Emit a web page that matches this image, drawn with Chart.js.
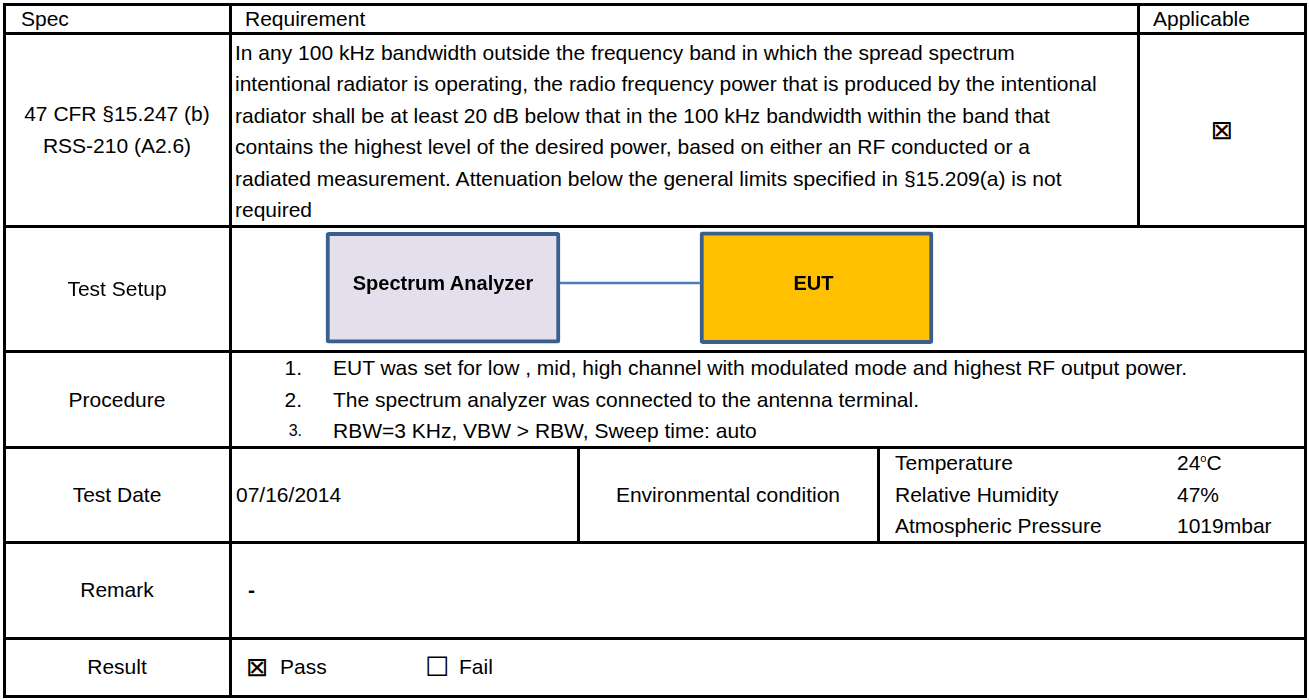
<!DOCTYPE html>
<html>
<head>
<meta charset="utf-8">
<title>Band edge / conducted spurious emission</title>
<script src="https://cdn.jsdelivr.net/npm/chart.js"></script>
<style>
  body { margin: 0; background: #fff; }
  #page { position: relative; width: 1309px; height: 700px; overflow: hidden;
          font-family: 'Liberation Sans', Arial, sans-serif; font-size: 21px; color: #000; }
  .rule { position: absolute; background: #000; }
  .txt { position: absolute; height: 24px; line-height: 24px; white-space: nowrap; }
  .txt sup { font-size: 11px; line-height: 0; vertical-align: 8px; }
  .mark { font-family: 'DejaVu Sans', sans-serif; font-size: 27px; }
  #setup { position: absolute; left: 232px; top: 228px; }
  .blockLabel { position: absolute; transform: translate(-50%, -50%); font-weight: bold;
                font-size: 20px; white-space: nowrap; }
</style>
</head>
<body>
<div id="page">
  <canvas id="setup" width="1071" height="122"></canvas>
  <div class="blockLabel" id="block0"></div>
  <div class="blockLabel" id="block1"></div>
</div>
<script>
// table text
const headers = ['Spec', 'Requirement', 'Applicable'];
const specRefs = ['47 CFR §15.247 (b)', 'RSS-210 (A2.6)'];
const requirementLines = [
    'In any 100 kHz bandwidth outside the frequency band in which the spread spectrum',
    'intentional radiator is operating, the radio frequency power that is produced by the intentional',
    'radiator shall be at least 20 dB below that in the 100 kHz bandwidth within the band that',
    'contains the highest level of the desired power, based on either an RF conducted or a',
    'radiated measurement. Attenuation below the general limits specified in §15.209(a) is not',
    'required'
];
const rowLabels = ['Test Setup', 'Procedure', 'Test Date', 'Remark', 'Result'];
const procedureNums = ['1.', '2.', '3.'];
const procedureSteps = [
    'EUT was set for low , mid, high channel with modulated mode and highest RF output power.',
    'The spectrum analyzer was connected to the antenna terminal.',
    'RBW=3 KHz, VBW > RBW, Sweep time: auto'
];
const testDate = '07/16/2014';
const envLabel = 'Environmental condition';
const envNames = ['Temperature', 'Relative Humidity', 'Atmospheric Pressure'];
const envValues = ['24<sup>o</sup>C', '47%', '1019mbar'];
const remark = '-';
const resultChoices = ['Pass', 'Fail'];
const resultMarks = ['⊠', '☐'];

// test setup diagram, x measured across the setup cell
const setupBlocks = ['Spectrum Analyzer', 'EUT'];
const blockStart = [94, 468];
const blockEnd = [328, 701];
const linkSpan = [328, 468];

const page = document.getElementById('page');
const rowLines = [4, 33, 226, 351, 447, 542, 638, 696];

function rule(x, y, w, h) {
    let d = document.createElement('div');
    d.className = 'rule';
    d.style.left = x + 'px';
    d.style.top = y + 'px';
    d.style.width = w + 'px';
    d.style.height = h + 'px';
    page.appendChild(d);
}

function put(html, x, y, align, css) {
    let d = document.createElement('div');
    d.className = 'txt';
    d.innerHTML = html;
    d.style.top = (y - 12) + 'px';
    if (align === 'center') {
        d.style.left = (x - 300) + 'px';
        d.style.width = '600px';
        d.style.textAlign = 'center';
    } else if (align === 'right') {
        d.style.left = (x - 100) + 'px';
        d.style.width = '100px';
        d.style.textAlign = 'right';
    } else {
        d.style.left = x + 'px';
    }
    if (css) d.style.cssText += css;
    page.appendChild(d);
    return d;
}

// grid lines
rowLines.forEach(y => rule(3, y - 1, 1304, 3));
[4, 230, 1305].forEach(x => rule(x - 1, 3, 3, 694));
rule(1137, 3, 3, 224);
rule(577, 446, 3, 97);
rule(877, 446, 3, 97);

// header
put(headers[0], 21, 18.5);
put(headers[1], 245, 18.5);
put(headers[2], 1153, 18.5);

// requirement row
specRefs.forEach((t, i) => put(t, 117, 114 + i * 31.5, 'center'));
requirementLines.forEach((t, i) => put(t, 235, 52.5 + i * 31.5));
put(resultMarks[0], 1222, 129.5, 'center').classList.add('mark');

// left column labels
const labelY = [289, 399.5, 494.5, 590, 667];
rowLabels.forEach((t, i) => put(t, 117, labelY[i], 'center'));

// procedure
procedureSteps.forEach((t, i) => {
    let y = 368 + i * 31.5;
    put(procedureNums[i], 302, y, 'right', i === 2 ? 'font-size:16px;' : '');
    put(t, 333, y);
});

// test date / environment
put(testDate, 236, 494.5);
put(envLabel, 728, 494.5, 'center');
envNames.forEach((t, i) => {
    put(t, 895, 463 + i * 31.5);
    put(envValues[i], 1177, 463 + i * 31.5);
});

// remark and result
put(remark, 248, 590, null, 'font-weight:bold;');
resultChoices.forEach((t, i) => {
    let x = i === 0 ? 246 : 425;
    put(resultMarks[i], x, 667).classList.add('mark');
    put(t, x + 34, 667);
});

// labels sit on the boxes, centred on the link line
const blockLabels = {
    id: 'blockLabels',
    afterRender(chart) {
        let link = chart.getDatasetMeta(0).data[0];
        setupBlocks.forEach((name, i) => {
            let bar = chart.getDatasetMeta(i + 1).data[0];
            let el = document.getElementById('block' + i);
            el.textContent = name;
            el.style.left = (232 + (bar.x + bar.base) / 2 - 3 * i) + 'px';
            el.style.top = (228 + link.y) + 'px';
        });
    }
};

let ctx = document.getElementById('setup').getContext('2d');
let setupChart = new Chart(ctx, {
    type: 'bar',
    data: {
        datasets: [
            {
                label: 'link',
                data: [{ x: linkSpan, y: 54 }],
                backgroundColor: '#4a7ebb',
                borderWidth: 0,
                barThickness: 2
            },
            {
                label: setupBlocks[0],
                data: [{ x: [blockStart[0], blockEnd[0]], y: 59.5 }],
                backgroundColor: '#e4dfec',
                borderColor: '#3b5f8c',
                borderWidth: 4,
                borderRadius: 3,
                borderSkipped: false,
                barThickness: 111
            },
            {
                label: setupBlocks[1],
                data: [{ x: [blockStart[1], blockEnd[1]], y: 59.5 }],
                backgroundColor: '#ffc000',
                borderColor: '#3b5f8c',
                borderWidth: 4,
                borderRadius: 3,
                borderSkipped: false,
                barThickness: 112
            }
        ]
    },
    options: {
        indexAxis: 'y',
        responsive: false,
        animation: false,
        layout: { padding: 0 },
        datasets: { bar: { grouped: false } },
        scales: {
            x: { type: 'linear', min: 0, max: 1071, display: false },
            y: { type: 'linear', min: 0, max: 122, reverse: true, display: false }
        },
        plugins: {
            legend: { display: false },
            tooltip: { enabled: false }
        }
    },
    plugins: [blockLabels]
});
</script>
</body>
</html>
